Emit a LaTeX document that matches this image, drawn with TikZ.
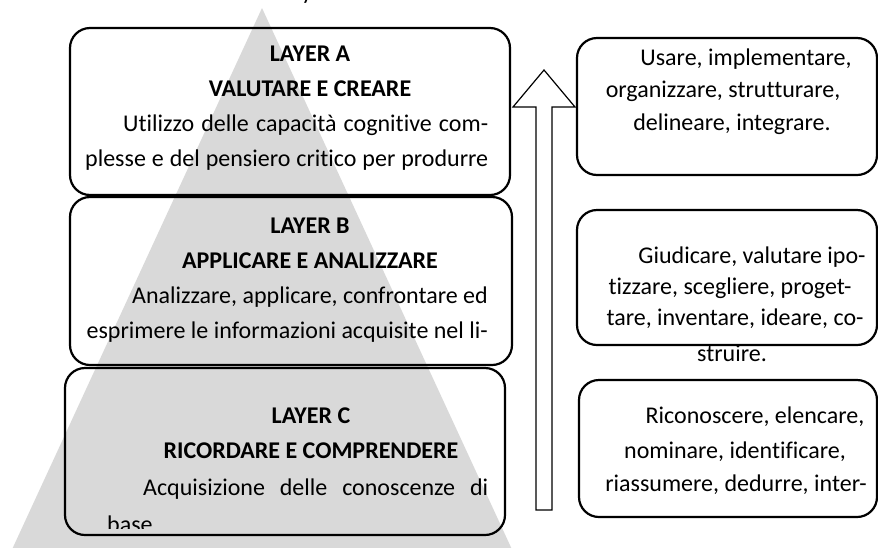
\documentclass[tikz,border=0pt]{standalone}
\usepackage{fontspec}
\setmainfont{Carlito}[Ligatures=NoCommon]
\definecolor{pyramid}{RGB}{217,217,217}
\newcommand{\jline}[2]{\makebox[#1pt][s]{#2}}
\tikzset{
  layer/.style={draw, line width=2.2pt, rounded corners=20pt, inner sep=0pt},
  txt/.style={font=\fontsize{24}{29}\selectfont, inner sep=0pt, anchor=mid},
  head/.style={txt, font=\fontsize{24}{29}\selectfont\bfseries},
  just/.style={txt, anchor=mid west},
  flush/.style={txt, anchor=mid east}
}
\begin{document}
\begin{tikzpicture}[x=1pt, y=-1pt]
  \useasboundingbox (0,0) rectangle (878,547);
  \fill[pyramid] (262,8) -- (3,569) -- (521,569) -- cycle;
  \node[txt, anchor=base] (cap) at (307,-1) {y};
  \node[layer, minimum width=440pt, minimum height=167pt] (layerA) at (290,111.5) {};
  \node[layer, minimum width=442pt, minimum height=168pt] (layerB) at (291,281) {};
  \node[layer, minimum width=440pt, minimum height=167pt] (layerC) at (285,451.5) {};
  \node[layer, minimum width=300pt, minimum height=137pt] (verbA) at (727,106.5) {};
  \node[layer, minimum width=300pt, minimum height=135pt] (verbB) at (727,277.5) {};
  \node[layer, minimum width=298pt, minimum height=137pt] (verbC) at (728,448.5) {};
  \draw[line width=1.2pt, fill=white] (536,510) -- (536,107) -- (513,107) -- (544,70)
    -- (575,107) -- (552,107) -- (552,510) -- cycle;
  \path
    (310,59) node[head] (a1) {LAYER A}
    (310,94) node[head] (a2) {VALUTARE E CREARE}
    (123,129) node[just] (a3) {\jline{365}{Utilizzo delle capacità cognitive com-}}
    (85,164) node[just] (a4) {\jline{403}{plesse e del pensiero critico per produrre}}
    (310,231) node[head] (b1) {LAYER B}
    (310,266) node[head] (b2) {APPLICARE E ANALIZZARE}
    (488,301) node[flush] (b3) {Analizzare, applicare, confrontare ed}
    (488,336) node[flush] (b4) {esprimere le informazioni acquisite nel li-}
    (311,421) node[head] (c1) {LAYER C}
    (311,456) node[head] (c2) {RICORDARE E COMPRENDERE}
    (143,493) node[just] (c3) {\jline{345}{Acquisizione delle conoscenze di}};
  \begin{scope}
    \clip (60,360) rectangle (510,528);
    \node[txt, anchor=base west] (c4) at (107,532) {base};
  \end{scope}
  \path
    (746,63) node[txt] (va1) {Usare, implementare,}
    (723,95) node[txt] (va2) {organizzare, strutturare,}
    (732,128) node[txt] (va3) {delineare, integrare.}
    (752,261) node[txt] (vb1) {Giudicare, valutare ipo-}
    (730,292) node[txt] (vb2) {tizzare, scegliere, proget-}
    (735,323) node[txt] (vb3) {tare, inventare, ideare, co-}
    (732,359) node[txt] (vb4) {struire.}
    (755,421) node[txt] (vc1) {Riconoscere, elencare,}
    (735,456) node[txt] (vc2) {nominare, identificare,}
    (736,489) node[txt] (vc3) {riassumere, dedurre, inter-};
\end{tikzpicture}
\end{document}
